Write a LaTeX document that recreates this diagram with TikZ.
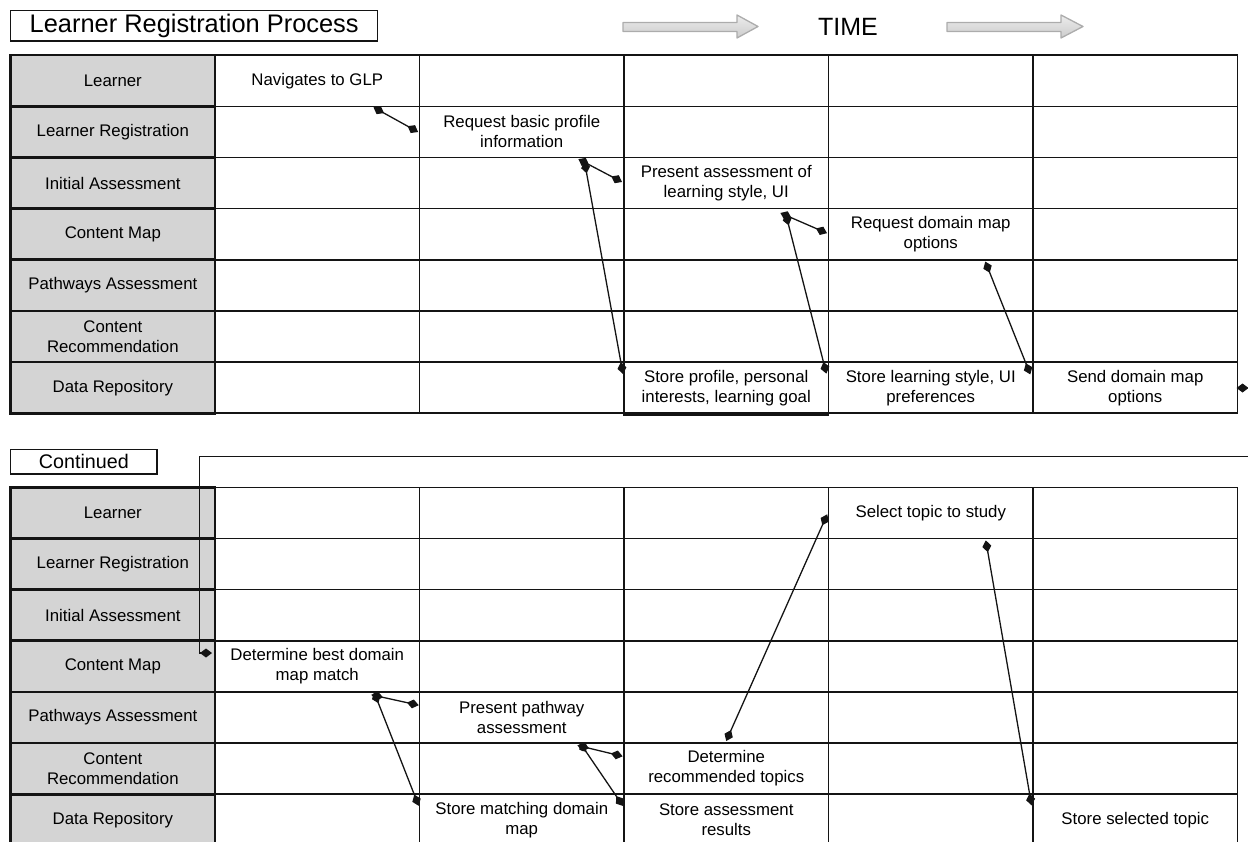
\documentclass[tikz,border=0pt]{standalone}
\usepackage{fontspec}
\setmainfont{Liberation Sans}
\usetikzlibrary{arrows.meta}
\definecolor{lanegray}{RGB}{212,212,212}
\definecolor{ink}{RGB}{20,20,20}
\newcommand\lanefont{\fontsize{16.8}{20}\selectfont}
\tikzset{
  lane/.style={draw=ink, line width=2.6pt, fill=lanegray, minimum width=204.3pt,
    minimum height=51.15pt, inner sep=0pt, outer sep=0pt, align=center, font=\lanefont},
  cell/.style={draw=ink, line width=1.6pt, minimum width=204.5pt,
    minimum height=51.15pt, inner sep=0pt, outer sep=0pt},
  txt/.style={align=center, font=\lanefont, inner sep=0pt},
  conn/.style={draw=ink, line width=1.3pt,
    {Diamond[length=12pt,width=9pt]}-{Diamond[length=12pt,width=9pt]}},
  loopconn/.style={draw=ink, line width=1.1pt, {Diamond[length=12pt,width=9pt]}-{Diamond[length=12pt,width=9pt]}},
  labelbox/.style={draw=ink, line width=1.1pt, inner sep=0pt, outer sep=0pt},
  timearrow/.style={draw=gray!65, line width=1.3pt, top color=gray!15, bottom color=gray!40, line join=round},
}
\begin{document}
\begin{tikzpicture}[x=1pt, y=-1pt]
\useasboundingbox (0,0) rectangle (1248,842);
\clip (0,0) rectangle (1248,842);

% headings
\node[labelbox, minimum width=367pt, minimum height=30.3pt, font=\fontsize{25.4}{28}\selectfont]
  (title) at (194.2,25.85) {Learner Registration Process};
\node[inner sep=0pt, font=\fontsize{25}{28}\selectfont] (time) at (848,26.5) {TIME};
\draw[timearrow] (623,22.5) -- (737,22.5) -- (737,15) -- (758,26.5) -- (737,38) -- (737,31.5) -- (623,31.5) -- cycle;
\draw[timearrow] (947,22.5) -- (1061,22.5) -- (1061,15) -- (1083,26.5) -- (1061,38) -- (1061,31.5) -- (947,31.5) -- cycle;
\node[labelbox, minimum width=146.3pt, minimum height=24.7pt, font=\fontsize{19.7}{22}\selectfont]
  (cont) at (83.85,461.65) {Continued};

% white cells of both tables
\foreach \r in {1,...,7} {
  \foreach \c in {1,...,5} {
    \node[cell] (tc-\r-\c) at ({215+204.5*(\c-0.5)},{55.2+51.15*(\r-0.5)}) {};
    \node[cell] (bc-\r-\c) at ({215+204.5*(\c-0.5)},{487.3+51.15*(\r-0.5)}) {};
  }
}
% the storage cell that sits slightly lower
\node[cell, minimum height=53pt] (tc-store) at (726.25,388.4) {};

% lane headers
\foreach \r/\lab in {1/{Learner}, 2/{Learner Registration}, 3/{Initial Assessment},
    4/{Content Map}, 5/{Pathways Assessment}, 6/{Content\\Recommendation}, 7/{Data Repository}} {
  \node[lane] (tl-\r) at (112.85,{55.2+51.15*(\r-0.5)}) {\lab};
  \node[lane] (bl-\r) at (112.85,{487.3+51.15*(\r-0.5)}) {\lab};
}

% activities, first part
\node[txt] (t1) at (tc-1-1) {Navigates to GLP};
\node[txt] (t2) at (tc-2-2) {Request basic profile\\information};
\node[txt] (t3) at (tc-3-3) {Present assessment of\\learning style, UI};
\node[txt] (t4) at (tc-4-4) {Request domain map\\options};
\node[txt] (t5) at (tc-7-3) {Store profile, personal\\interests, learning goal};
\node[txt] (t6) at (tc-7-4) {Store learning style, UI\\preferences};
\node[txt] (t7) at (tc-7-5) {Send domain map\\options};

% activities, continued
\node[txt] (u1) at (bc-1-4) {Select topic to study};
\node[txt] (u2) at (bc-4-1) {Determine best domain\\map match};
\node[txt] (u3) at (bc-5-2) {Present pathway\\assessment};
\node[txt] (u4) at (bc-6-3) {Determine\\recommended topics};
\node[txt] (u5) at (bc-7-2) {Store matching domain\\map};
\node[txt] (u6) at (bc-7-3) {Store assessment\\results};
\node[txt] (u7) at (bc-7-5) {Store selected topic};

% connector end points
\coordinate (k1s) at (373.5,107.3);  \coordinate (k1e) at (418.1,132);
\coordinate (k2s) at (578.4,159.1);  \coordinate (k2e) at (622,182);
\coordinate (k3s) at (584.5,161.5);  \coordinate (k3e) at (623,374);
\coordinate (k4s) at (780.4,213);    \coordinate (k4e) at (827,233.2);
\coordinate (k5s) at (785.7,213.7);  \coordinate (k5e) at (826.4,373.6);
\coordinate (k6s) at (985.3,261.6);  \coordinate (k6e) at (1030.3,374.4);
\coordinate (m1s) at (371.3,694.8);  \coordinate (m1e) at (418.7,705.2);
\coordinate (m2s) at (374,692);      \coordinate (m2e) at (418.7,805.8);
\coordinate (m3s) at (577.4,745.4);  \coordinate (m3e) at (622.6,756.3);
\coordinate (m4s) at (579.6,742.2);  \coordinate (m4e) at (623,806);
\coordinate (m5s) at (726.2,741);    \coordinate (m5e) at (827.2,514.3);
\coordinate (m6s) at (985.8,540.4);  \coordinate (m6e) at (1031.6,805.4);
\coordinate (lps) at (1236.5,388);
\coordinate (lpa) at (1262,456.7);
\coordinate (lpb) at (199.3,456.7);
\coordinate (lpe) at (212,653);

% connectors
\foreach \a in {k1,k2,k3,k4,k5,k6,m1,m2,m3,m4,m5,m6}
  \draw[conn] (\a s) -- (\a e);
\draw[loopconn] (lps) -| (lpa) -- (lpb) |- (lpe);
\end{tikzpicture}
\end{document}
